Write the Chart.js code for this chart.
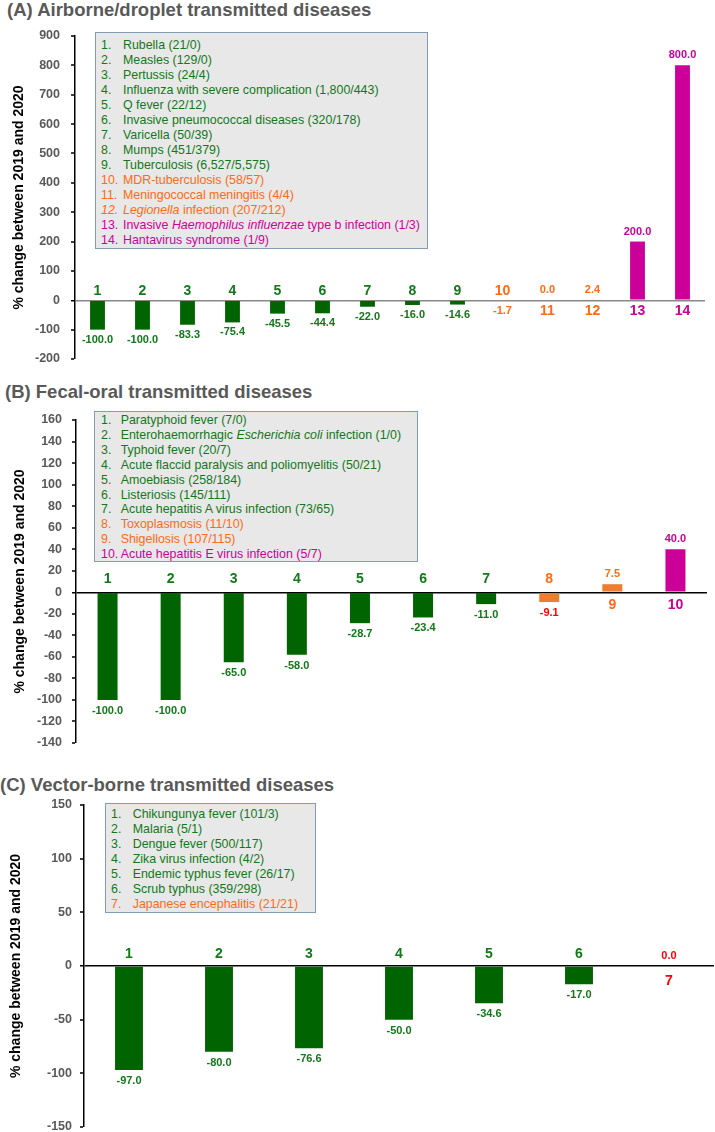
<!DOCTYPE html>
<html>
<head>
<meta charset="utf-8">
<script src="https://cdn.jsdelivr.net/npm/chart.js@4"></script>
<style>
  body { margin: 0; width: 715px; height: 1132px; overflow: hidden; background: #fff; position: relative;
         font-family: "Liberation Sans", Arial, sans-serif; }
  .title { position: absolute; font-weight: bold; font-size: 18.5px; line-height: 20px; color: #595959; white-space: nowrap; }
  .legend { position: absolute; box-sizing: border-box; background: #e8e8e8; border: 1px solid #7f9db9;
            font-size: 12.4px; white-space: nowrap; }
  .legend div { display: flex; }
  .legend span.n { flex: none; }
  canvas { position: absolute; left: 0; }
</style>
</head>
<body>
<div class="title" style="left:7px; top:0px">(A) Airborne/droplet transmitted diseases</div>
<div class="title" style="left:5px; top:382px">(B) Fecal-oral transmitted diseases</div>
<div class="title" style="left:0px; top:775px">(C) Vector-borne transmitted diseases</div>

<canvas id="airChart" width="715" height="343" style="top:26px"></canvas>
<canvas id="fecalChart" width="715" height="343" style="top:410px"></canvas>
<canvas id="vectorChart" width="715" height="342" style="top:795px"></canvas>

<div class="legend" id="airLegend" style="left:95px; top:32px; width:333px; height:217px; padding:4.5px 0 0 5px; line-height:15px"></div>
<div class="legend" id="fecalLegend" style="left:94px; top:411px; width:324px; height:151px; padding:1px 0 0 6px; line-height:14.9px"></div>
<div class="legend" id="vectorLegend" style="left:105px; top:803px; width:211px; height:110px; padding:2.5px 0 0 5px; line-height:15px"></div>

<script>
// (A) airborne / droplet
const airCats = ['1', '2', '3', '4', '5', '6', '7', '8', '9', '10', '11', '12', '13', '14'];
const airValues = [-100.0, -100.0, -83.3, -75.4, -45.5, -44.4, -22.0, -16.0, -14.6, -1.7, 0.0, 2.4, 200.0, 800.0];
const airGroups = ['down', 'down', 'down', 'down', 'down', 'down', 'down', 'down', 'down', 'flat', 'flat', 'flat', 'up', 'up'];
const airLegend = [
  'Rubella (21/0)',
  'Measles (129/0)',
  'Pertussis (24/4)',
  'Influenza with severe complication (1,800/443)',
  'Q fever (22/12)',
  'Invasive pneumococcal diseases (320/178)',
  'Varicella (50/39)',
  'Mumps (451/379)',
  'Tuberculosis (6,527/5,575)',
  'MDR-tuberculosis (58/57)',
  'Meningococcal meningitis (4/4)',
  '<i>Legionella</i> infection (207/212)',
  'Invasive <i>Haemophilus influenzae</i> type b infection (1/3)',
  'Hantavirus syndrome (1/9)'
];
const airTicks = { min: -200, max: 900, step: 100 };

// (B) fecal-oral
const fecalCats = ['1', '2', '3', '4', '5', '6', '7', '8', '9', '10'];
const fecalValues = [-100.0, -100.0, -65.0, -58.0, -28.7, -23.4, -11.0, -9.1, 7.5, 40.0];
const fecalGroups = ['down', 'down', 'down', 'down', 'down', 'down', 'down', 'flat', 'flat', 'up'];
const fecalLegend = [
  'Paratyphoid fever (7/0)',
  'Enterohaemorrhagic <i>Escherichia coli</i> infection (1/0)',
  'Typhoid fever (20/7)',
  'Acute flaccid paralysis and poliomyelitis (50/21)',
  'Amoebiasis (258/184)',
  'Listeriosis (145/111)',
  'Acute hepatitis A virus infection (73/65)',
  'Toxoplasmosis (11/10)',
  'Shigellosis (107/115)',
  'Acute hepatitis E virus infection (5/7)'
];
const fecalTicks = { min: -140, max: 160, step: 20 };

// (C) vector-borne
const vectorCats = ['1', '2', '3', '4', '5', '6', '7'];
const vectorValues = [-97.0, -80.0, -76.6, -50.0, -34.6, -17.0, 0.0];
const vectorGroups = ['down', 'down', 'down', 'down', 'down', 'down', 'flat'];
const vectorLegend = [
  'Chikungunya fever (101/3)',
  'Malaria (5/1)',
  'Dengue fever (500/117)',
  'Zika virus infection (4/2)',
  'Endemic typhus fever (26/17)',
  'Scrub typhus (359/298)',
  'Japanese encephalitis (21/21)'
];
const vectorTicks = { min: -150, max: 150, step: 50 };

const FONT = '"Liberation Sans", Arial, sans-serif';
const barColor = { down: '#006400', flat: '#ed7d31', up: '#cc0099' };
const textColor = { down: '#13781a', flat: '#ff6a13', up: '#cc0099' };
const RED = '#ff0000';

function fillLegend(id, items, groups, numWidth) {
  const box = document.getElementById(id);
  items.forEach((t, i) => {
    const row = document.createElement('div');
    row.style.color = textColor[groups[i]];
    const num = (i + 1) + '.';
    const n = t.startsWith('<i>') ? '<i>' + num + '</i>' : num;
    row.innerHTML = '<span class="n" style="width:' + numWidth + 'px">' + n + '</span><span>' + t + '</span>';
    box.appendChild(row);
  });
}
fillLegend('airLegend', airLegend, airGroups, 22);
fillLegend('fecalLegend', fecalLegend, fecalGroups, 19.7);
fillLegend('vectorLegend', vectorLegend, vectorGroups, 21.7);

const barLabels = {
  id: 'barLabels',
  afterDatasetsDraw(chart, args, opts) {
    const { ctx } = chart;
    const values = chart.data.datasets[0].data;
    const zero = chart.scales.y.getPixelForValue(0);
    ctx.save();
    ctx.textAlign = 'center';
    ctx.textBaseline = 'middle';
    chart.getDatasetMeta(0).data.forEach((bar, i) => {
      const v = values[i];
      const down = v < 0;
      ctx.font = 'bold 11px ' + FONT;
      ctx.fillStyle = opts.valueColors[i];
      ctx.fillText(v.toFixed(1), bar.x, down ? bar.y + opts.belowGap : bar.y - 10);
      ctx.font = 'bold 14px ' + FONT;
      ctx.fillStyle = opts.numColors[i];
      ctx.fillText(chart.data.labels[i], bar.x, down ? zero - opts.numAbove : zero + opts.numBelow);
    });
    ctx.restore();
  }
};

function makeChart(id, cats, values, groups, ticks, cfg) {
  const numColors = groups.map(g => textColor[g]);
  const valueColors = groups.map(g => textColor[g]);
  (cfg.redValues || []).forEach(i => { valueColors[i] = RED; });
  (cfg.redNums || []).forEach(i => { numColors[i] = RED; });
  return new Chart(document.getElementById(id), {
    type: 'bar',
    data: {
      labels: cats,
      datasets: [{
        data: values,
        backgroundColor: groups.map(g => barColor[g]),
        barPercentage: cfg.barPct,
        categoryPercentage: 1
      }]
    },
    options: {
      responsive: false,
      animation: false,
      layout: { padding: { top: 10, bottom: 10, left: 0, right: cfg.padRight } },
      plugins: {
        legend: { display: false },
        tooltip: { enabled: false },
        barLabels: {
          valueColors: valueColors,
          numColors: numColors,
          belowGap: cfg.belowGap,
          numAbove: cfg.numAbove,
          numBelow: cfg.numBelow
        }
      },
      scales: {
        x: { display: false },
        y: {
          min: ticks.min,
          max: ticks.max,
          afterFit: s => { s.width = cfg.axisLeft; s.paddingTop = 0; s.paddingBottom = 0; },
          ticks: {
            stepSize: ticks.step,
            padding: cfg.tickPad,
            color: '#595959',
            font: { family: FONT, size: 12.5, weight: 'bold' }
          },
          grid: {
            color: c => c.tick && c.tick.value === 0 ? cfg.zeroColor : 'rgba(0,0,0,0)',
            lineWidth: c => c.tick && c.tick.value === 0 ? 1.5 : 0,
            tickColor: '#000',
            tickLength: 4,
            tickWidth: 1.5
          },
          border: { color: '#000', width: 1.5 },
          title: {
            display: true,
            text: '% change between 2019 and 2020',
            color: '#000',
            font: { family: FONT, size: 14, weight: 'bold' },
            padding: { top: cfg.titlePad, bottom: 0 }
          }
        }
      }
    },
    plugins: [barLabels]
  });
}

makeChart('airChart', airCats, airValues, airGroups, airTicks, {
  barPct: 0.33, padRight: 10, axisLeft: 75, tickPad: 11, titlePad: 10.6, zeroColor: '#888',
  belowGap: 10, numAbove: 9, numBelow: 11
});
makeChart('fecalChart', fecalCats, fecalValues, fecalGroups, fecalTicks, {
  barPct: 0.317, padRight: 8, axisLeft: 76, tickPad: 10, titlePad: 11.6, zeroColor: '#000',
  belowGap: 11, numAbove: 13, numBelow: 13, redValues: [7]
});
makeChart('vectorChart', vectorCats, vectorValues, vectorGroups, vectorTicks, {
  barPct: 0.31, padRight: 1, axisLeft: 84, tickPad: 8, titlePad: 7.6, zeroColor: '#000',
  belowGap: 11, numAbove: 12, numBelow: 15, redValues: [6], redNums: [6]
});
</script>
</body>
</html>
